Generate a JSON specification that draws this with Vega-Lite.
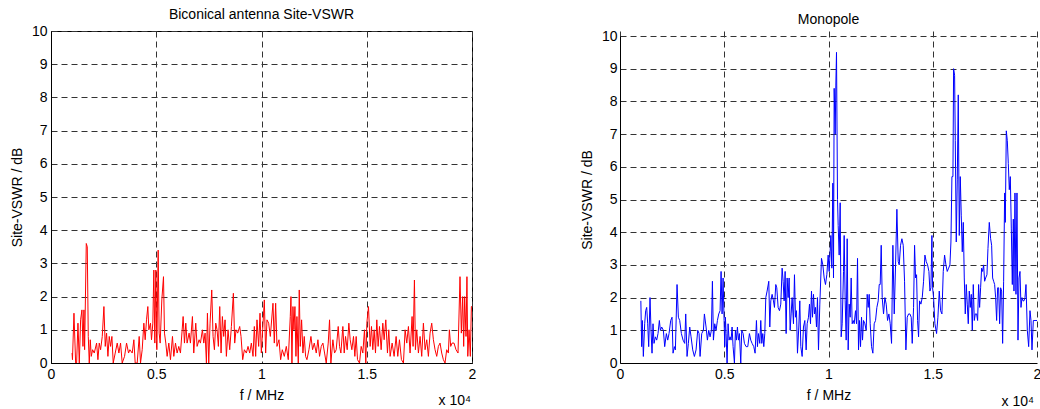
{
  "$schema": "https://vega.github.io/schema/vega-lite/v6.json",
  "padding": {"left": 9, "top": 7, "right": 0, "bottom": 0},
  "background": "white",
  "spacing": 103,
  "config": {
    "view": {"stroke": "#000000", "strokeWidth": 1},
    "font": "Liberation Sans",
    "axis": {
      "grid": true,
      "gridDash": [6, 4],
      "gridColor": "#333333",
      "gridWidth": 1,
      "ticks": false,
      "domainColor": "#000000",
      "labelColor": "#000000",
      "labelFont": "Liberation Sans",
      "labelFontSize": 14,
      "labelPadding": 4,
      "labelFlush": false,
      "labelOverlap": false,
      "titleFont": "Liberation Sans",
      "titleFontSize": 14,
      "titleFontWeight": "normal",
      "titleColor": "#000000"
    },
    "title": {"font": "Liberation Sans", "fontSize": 14, "fontWeight": "normal", "color": "#000000", "offset": 2, "frame": "group", "anchor": "middle"}
  },
  "datasets": {
    "bicon": [
      {"f":1000,"v":0.3},{"f":1020,"v":0.1},{"f":1091,"v":1.5},{"f":1170,"v":0},{"f":1217,"v":0},{"f":1281,"v":1.2},{"f":1344,"v":0},{"f":1407,"v":1.3},{"f":1470,"v":1.6},{"f":1518,"v":0.5},{"f":1565,"v":1.6},{"f":1597,"v":0.4},{"f":1676,"v":3.6},{"f":1723,"v":3.5},{"f":1771,"v":0.8},{"f":1818,"v":0},{"f":1866,"v":0.7},{"f":1913,"v":0.2},{"f":1976,"v":0.4},{"f":2055,"v":0.3},{"f":2166,"v":0.6},{"f":2229,"v":0.1},{"f":2292,"v":0.6},{"f":2356,"v":0.4},{"f":2435,"v":0.8},{"f":2514,"v":1.7},{"f":2577,"v":0.5},{"f":2640,"v":0.9},{"f":2704,"v":0.2},{"f":2767,"v":0.8},{"f":2830,"v":0.5},{"f":2893,"v":0.8},{"f":2956,"v":0},{"f":3051,"v":0.3},{"f":3146,"v":0.6},{"f":3225,"v":0.3},{"f":3304,"v":0.6},{"f":3383,"v":0},{"f":3494,"v":0.2},{"f":3589,"v":0.6},{"f":3684,"v":0.3},{"f":3747,"v":0.4},{"f":3858,"v":0.3},{"f":3937,"v":0.7},{"f":4000,"v":0},{"f":4095,"v":0},{"f":4190,"v":0.8},{"f":4253,"v":0},{"f":4332,"v":0.4},{"f":4411,"v":1.2},{"f":4474,"v":0.7},{"f":4537,"v":1.3},{"f":4600,"v":1.7},{"f":4648,"v":1.0},{"f":4727,"v":1.2},{"f":4775,"v":0.7},{"f":4838,"v":1.2},{"f":4885,"v":2.8},{"f":4933,"v":0.6},{"f":4980,"v":2.8},{"f":5028,"v":0.4},{"f":5091,"v":3.4},{"f":5138,"v":0.9},{"f":5186,"v":0.6},{"f":5265,"v":1.9},{"f":5344,"v":2.6},{"f":5391,"v":0.9},{"f":5454,"v":0.6},{"f":5518,"v":0.2},{"f":5597,"v":0.6},{"f":5676,"v":0.1},{"f":5771,"v":0.8},{"f":5834,"v":0.2},{"f":5913,"v":0.6},{"f":5992,"v":0.3},{"f":6071,"v":0.5},{"f":6150,"v":0.3},{"f":6277,"v":1.4},{"f":6340,"v":0.6},{"f":6403,"v":1.2},{"f":6466,"v":0.6},{"f":6561,"v":0.9},{"f":6624,"v":0.6},{"f":6719,"v":1.4},{"f":6782,"v":0.3},{"f":6877,"v":1.2},{"f":6941,"v":0.5},{"f":7035,"v":0.7},{"f":7099,"v":0.6},{"f":7194,"v":1.0},{"f":7257,"v":0.6},{"f":7320,"v":0.9},{"f":7383,"v":0},{"f":7431,"v":1.5},{"f":7494,"v":0},{"f":7557,"v":1.2},{"f":7636,"v":2.2},{"f":7699,"v":0.8},{"f":7763,"v":0.4},{"f":7826,"v":1.2},{"f":7889,"v":1.0},{"f":7952,"v":0.5},{"f":8016,"v":1.7},{"f":8079,"v":0.3},{"f":8142,"v":1.4},{"f":8205,"v":0.8},{"f":8269,"v":1.3},{"f":8332,"v":0.2},{"f":8411,"v":1.0},{"f":8490,"v":0.4},{"f":8569,"v":1.1},{"f":8664,"v":2.1},{"f":8727,"v":0.6},{"f":8790,"v":1.0},{"f":8869,"v":0.9},{"f":8964,"v":1.1},{"f":9027,"v":0.8},{"f":9107,"v":0.1},{"f":9186,"v":0.4},{"f":9280,"v":0.3},{"f":9360,"v":0.5},{"f":9439,"v":0.3},{"f":9518,"v":0.6},{"f":9597,"v":0.2},{"f":9660,"v":1.1},{"f":9723,"v":0.2},{"f":9786,"v":1.3},{"f":9865,"v":0.5},{"f":9929,"v":1.5},{"f":9992,"v":0.3},{"f":10055,"v":1.0},{"f":10134,"v":1.9},{"f":10197,"v":0.3},{"f":10261,"v":1.3},{"f":10340,"v":1.2},{"f":10419,"v":0.8},{"f":10545,"v":1.8},{"f":10608,"v":0.6},{"f":10672,"v":1.8},{"f":10735,"v":0.5},{"f":10830,"v":0.7},{"f":10909,"v":0.1},{"f":10988,"v":0.4},{"f":11083,"v":0.2},{"f":11178,"v":0.5},{"f":11272,"v":0.1},{"f":11367,"v":1.4},{"f":11399,"v":2.0},{"f":11446,"v":0},{"f":11494,"v":1.7},{"f":11541,"v":1.0},{"f":11588,"v":1.7},{"f":11636,"v":0.2},{"f":11683,"v":1.4},{"f":11747,"v":0},{"f":11794,"v":2.2},{"f":11842,"v":0.5},{"f":11905,"v":1.3},{"f":11968,"v":0.3},{"f":12031,"v":0.8},{"f":12095,"v":0.2},{"f":12158,"v":0.1},{"f":12253,"v":0.4},{"f":12348,"v":0.8},{"f":12427,"v":0.4},{"f":12506,"v":0.6},{"f":12601,"v":0.3},{"f":12680,"v":0.7},{"f":12759,"v":0.2},{"f":12838,"v":0.5},{"f":12917,"v":0.6},{"f":12996,"v":0.3},{"f":13075,"v":0},{"f":13170,"v":0.6},{"f":13233,"v":1.3},{"f":13296,"v":0},{"f":13391,"v":0.7},{"f":13470,"v":0.3},{"f":13549,"v":0.4},{"f":13644,"v":1.1},{"f":13707,"v":0.5},{"f":13771,"v":0.3},{"f":13865,"v":1.1},{"f":13929,"v":0.3},{"f":13992,"v":0.8},{"f":14071,"v":0.4},{"f":14150,"v":1.2},{"f":14213,"v":0.7},{"f":14292,"v":0.4},{"f":14371,"v":0.8},{"f":14435,"v":0.2},{"f":14498,"v":0.8},{"f":14561,"v":0.1},{"f":14656,"v":0},{"f":14735,"v":0.5},{"f":14814,"v":0.3},{"f":14893,"v":1.0},{"f":14956,"v":0},{"f":15004,"v":1.2},{"f":15083,"v":1.7},{"f":15162,"v":0.5},{"f":15225,"v":1.1},{"f":15288,"v":0.4},{"f":15352,"v":1.0},{"f":15415,"v":0.3},{"f":15478,"v":1.3},{"f":15541,"v":0.5},{"f":15605,"v":1.1},{"f":15684,"v":0.4},{"f":15763,"v":1.2},{"f":15826,"v":0.7},{"f":15905,"v":1.3},{"f":15984,"v":0.3},{"f":16047,"v":1.0},{"f":16111,"v":0.2},{"f":16206,"v":0.6},{"f":16300,"v":0.2},{"f":16395,"v":0.8},{"f":16474,"v":0.2},{"f":16553,"v":0.7},{"f":16648,"v":0.1},{"f":16743,"v":0},{"f":16822,"v":1.0},{"f":16901,"v":0.6},{"f":16980,"v":1.1},{"f":17059,"v":0.3},{"f":17154,"v":1.4},{"f":17201,"v":0.5},{"f":17265,"v":2.5},{"f":17312,"v":0.4},{"f":17375,"v":1.0},{"f":17454,"v":0.3},{"f":17533,"v":0.8},{"f":17612,"v":0.2},{"f":17691,"v":1.2},{"f":17771,"v":0.4},{"f":17850,"v":0.7},{"f":17929,"v":0.2},{"f":18008,"v":0.9},{"f":18087,"v":1.2},{"f":18166,"v":0.7},{"f":18245,"v":0.4},{"f":18324,"v":0.2},{"f":18403,"v":0.5},{"f":18482,"v":0.6},{"f":18561,"v":0.3},{"f":18640,"v":0.1},{"f":18719,"v":0},{"f":18798,"v":0.4},{"f":18877,"v":0.3},{"f":18925,"v":1.0},{"f":18988,"v":0.5},{"f":19051,"v":0.6},{"f":19146,"v":0.6},{"f":19241,"v":0.4},{"f":19336,"v":0.3},{"f":19430,"v":2.6},{"f":19494,"v":0.9},{"f":19557,"v":2.0},{"f":19605,"v":0.5},{"f":19652,"v":2.0},{"f":19715,"v":0.8},{"f":19760,"v":2.6},{"f":19800,"v":0.2},{"f":19860,"v":1.0},{"f":19920,"v":0.2},{"f":19970,"v":1.7},{"f":20000,"v":1.7}
    ],
    "mono": [
      {"f":1000,"v":1.9},{"f":1040,"v":0.5},{"f":1072,"v":1.3},{"f":1120,"v":0.2},{"f":1184,"v":1.2},{"f":1232,"v":1.6},{"f":1280,"v":1.7},{"f":1328,"v":1.2},{"f":1376,"v":0.5},{"f":1440,"v":2.0},{"f":1488,"v":1.0},{"f":1536,"v":0.3},{"f":1584,"v":1.2},{"f":1632,"v":0.6},{"f":1696,"v":0.8},{"f":1760,"v":0.7},{"f":1824,"v":0.9},{"f":1888,"v":1.3},{"f":1936,"v":1.0},{"f":2000,"v":1.1},{"f":2080,"v":1.0},{"f":2144,"v":0.5},{"f":2224,"v":0.9},{"f":2288,"v":0.7},{"f":2352,"v":0.9},{"f":2432,"v":1.3},{"f":2496,"v":1.4},{"f":2544,"v":0.3},{"f":2608,"v":0.5},{"f":2656,"v":0.4},{"f":2736,"v":2.4},{"f":2800,"v":1.4},{"f":2864,"v":1.3},{"f":2944,"v":0.9},{"f":3024,"v":0.7},{"f":3104,"v":0.6},{"f":3152,"v":1.5},{"f":3216,"v":0.2},{"f":3280,"v":0.6},{"f":3344,"v":1.1},{"f":3408,"v":0.8},{"f":3488,"v":0.4},{"f":3568,"v":0.2},{"f":3648,"v":0.4},{"f":3728,"v":1.0},{"f":3792,"v":0.9},{"f":3840,"v":0.2},{"f":3920,"v":0.9},{"f":4000,"v":1.0},{"f":4048,"v":1.5},{"f":4128,"v":1.1},{"f":4192,"v":0.7},{"f":4256,"v":1.0},{"f":4320,"v":0.8},{"f":4384,"v":1.0},{"f":4432,"v":2.5},{"f":4480,"v":0.7},{"f":4544,"v":1.2},{"f":4608,"v":1.0},{"f":4672,"v":1.3},{"f":4736,"v":1.5},{"f":4800,"v":1.6},{"f":4848,"v":2.8},{"f":4896,"v":1.5},{"f":4944,"v":2.6},{"f":4992,"v":1.3},{"f":5024,"v":0.5},{"f":5056,"v":1.4},{"f":5088,"v":0.9},{"f":5136,"v":0},{"f":5184,"v":1.2},{"f":5232,"v":0.7},{"f":5280,"v":0.8},{"f":5328,"v":0.7},{"f":5376,"v":1.1},{"f":5424,"v":0.5},{"f":5488,"v":0},{"f":5536,"v":1.0},{"f":5584,"v":0.7},{"f":5632,"v":1.1},{"f":5680,"v":0.7},{"f":5728,"v":0.9},{"f":5792,"v":0},{"f":5840,"v":1.0},{"f":5904,"v":0.9},{"f":5968,"v":0.6},{"f":6048,"v":0.5},{"f":6128,"v":0.5},{"f":6208,"v":0.9},{"f":6272,"v":0.7},{"f":6336,"v":0.6},{"f":6416,"v":0.5},{"f":6480,"v":0.3},{"f":6544,"v":1.3},{"f":6592,"v":0.5},{"f":6640,"v":0.9},{"f":6704,"v":0.6},{"f":6752,"v":1.3},{"f":6800,"v":0.6},{"f":6848,"v":0.9},{"f":6896,"v":0.5},{"f":6944,"v":0.9},{"f":6992,"v":2.0},{"f":7056,"v":2.2},{"f":7136,"v":2.5},{"f":7184,"v":1.1},{"f":7232,"v":1.9},{"f":7296,"v":2.1},{"f":7360,"v":1.9},{"f":7408,"v":1.7},{"f":7472,"v":2.4},{"f":7520,"v":2.3},{"f":7584,"v":1.7},{"f":7648,"v":1.6},{"f":7712,"v":1.8},{"f":7776,"v":2.9},{"f":7824,"v":2.5},{"f":7872,"v":1.9},{"f":7920,"v":2.8},{"f":7968,"v":0.9},{"f":8016,"v":2.6},{"f":8064,"v":2.0},{"f":8112,"v":2.6},{"f":8160,"v":1.0},{"f":8208,"v":1.5},{"f":8256,"v":2.0},{"f":8320,"v":1.2},{"f":8368,"v":2.7},{"f":8416,"v":1.4},{"f":8464,"v":1.6},{"f":8512,"v":0.3},{"f":8576,"v":1.1},{"f":8624,"v":1.9},{"f":8672,"v":0.5},{"f":8736,"v":0.2},{"f":8800,"v":1.1},{"f":8864,"v":1.3},{"f":8928,"v":0.4},{"f":8976,"v":1.2},{"f":9040,"v":1.4},{"f":9088,"v":1.8},{"f":9136,"v":1.2},{"f":9184,"v":2.2},{"f":9232,"v":1.4},{"f":9280,"v":2.1},{"f":9328,"v":1.5},{"f":9376,"v":1.7},{"f":9424,"v":1.1},{"f":9472,"v":2.0},{"f":9520,"v":0.4},{"f":9584,"v":1.8},{"f":9664,"v":3.2},{"f":9728,"v":3.0},{"f":9792,"v":2.6},{"f":9856,"v":2.4},{"f":9920,"v":2.7},{"f":9984,"v":3.3},{"f":10032,"v":2.8},{"f":10080,"v":3.4},{"f":10112,"v":3.9},{"f":10160,"v":2.9},{"f":10208,"v":5.5},{"f":10240,"v":2.6},{"f":10272,"v":8.4},{"f":10320,"v":7.0},{"f":10352,"v":8.5},{"f":10384,"v":9.5},{"f":10432,"v":5.0},{"f":10464,"v":4.2},{"f":10512,"v":3.3},{"f":10560,"v":4.9},{"f":10608,"v":0.8},{"f":10656,"v":1.2},{"f":10720,"v":2.8},{"f":10752,"v":3.9},{"f":10800,"v":1.9},{"f":10848,"v":0.7},{"f":10896,"v":3.8},{"f":10944,"v":0.4},{"f":10992,"v":1.8},{"f":11040,"v":1.4},{"f":11088,"v":2.6},{"f":11136,"v":1.2},{"f":11184,"v":1.3},{"f":11232,"v":1.2},{"f":11296,"v":1.6},{"f":11344,"v":1.2},{"f":11392,"v":3.2},{"f":11440,"v":0.4},{"f":11488,"v":1.3},{"f":11536,"v":0.5},{"f":11584,"v":1.4},{"f":11632,"v":0.7},{"f":11680,"v":1.3},{"f":11744,"v":1.2},{"f":11808,"v":1.0},{"f":11856,"v":2.1},{"f":11904,"v":1.7},{"f":11952,"v":2.1},{"f":12000,"v":1.2},{"f":12064,"v":0.5},{"f":12128,"v":0.3},{"f":12192,"v":1.2},{"f":12256,"v":1.3},{"f":12320,"v":1.7},{"f":12384,"v":1.9},{"f":12432,"v":2.4},{"f":12480,"v":2.4},{"f":12528,"v":3.6},{"f":12576,"v":2.0},{"f":12640,"v":1.5},{"f":12704,"v":2.0},{"f":12768,"v":1.8},{"f":12832,"v":1.3},{"f":12896,"v":1.5},{"f":12960,"v":1.2},{"f":13024,"v":0.6},{"f":13088,"v":3.6},{"f":13152,"v":1.5},{"f":13216,"v":3.0},{"f":13280,"v":4.7},{"f":13344,"v":3.1},{"f":13392,"v":3.0},{"f":13456,"v":3.6},{"f":13520,"v":3.8},{"f":13584,"v":3.6},{"f":13648,"v":2.5},{"f":13712,"v":0.4},{"f":13776,"v":1.4},{"f":13840,"v":1.5},{"f":13904,"v":1.5},{"f":13968,"v":1.4},{"f":14016,"v":0.6},{"f":14080,"v":1.7},{"f":14128,"v":3.6},{"f":14176,"v":2.6},{"f":14224,"v":2.7},{"f":14272,"v":1.3},{"f":14320,"v":0.8},{"f":14368,"v":1.9},{"f":14432,"v":1.8},{"f":14496,"v":2.0},{"f":14560,"v":2.5},{"f":14624,"v":3.3},{"f":14688,"v":3.1},{"f":14752,"v":3.0},{"f":14816,"v":2.8},{"f":14864,"v":2.2},{"f":14912,"v":2.3},{"f":14960,"v":3.9},{"f":14992,"v":2.3},{"f":15040,"v":2.0},{"f":15104,"v":1.2},{"f":15184,"v":0.9},{"f":15248,"v":1.4},{"f":15312,"v":2.2},{"f":15376,"v":1.6},{"f":15440,"v":1.5},{"f":15504,"v":2.8},{"f":15568,"v":3.3},{"f":15632,"v":3.0},{"f":15696,"v":2.8},{"f":15760,"v":2.9},{"f":15824,"v":3.0},{"f":15872,"v":3.7},{"f":15920,"v":5.7},{"f":15968,"v":5.7},{"f":16000,"v":9.0},{"f":16048,"v":8.8},{"f":16080,"v":6.8},{"f":16128,"v":3.7},{"f":16176,"v":5.6},{"f":16224,"v":8.2},{"f":16272,"v":3.9},{"f":16320,"v":5.7},{"f":16368,"v":4.5},{"f":16416,"v":3.4},{"f":16464,"v":4.3},{"f":16512,"v":2.6},{"f":16560,"v":1.5},{"f":16608,"v":2.4},{"f":16656,"v":1.8},{"f":16704,"v":1.2},{"f":16752,"v":2.2},{"f":16800,"v":1.7},{"f":16848,"v":2.1},{"f":16896,"v":1.0},{"f":16944,"v":2.4},{"f":16992,"v":1.3},{"f":17040,"v":1.5},{"f":17104,"v":1.5},{"f":17152,"v":1.3},{"f":17200,"v":2.4},{"f":17248,"v":1.7},{"f":17296,"v":2.3},{"f":17344,"v":2.9},{"f":17392,"v":2.8},{"f":17440,"v":3.0},{"f":17488,"v":2.5},{"f":17536,"v":2.6},{"f":17600,"v":2.7},{"f":17648,"v":3.5},{"f":17712,"v":4.3},{"f":17776,"v":3.8},{"f":17824,"v":3.6},{"f":17872,"v":2.6},{"f":17920,"v":2.5},{"f":17968,"v":2.4},{"f":18016,"v":2.0},{"f":18064,"v":1.3},{"f":18112,"v":2.3},{"f":18160,"v":2.3},{"f":18208,"v":1.2},{"f":18256,"v":2.3},{"f":18304,"v":2.2},{"f":18352,"v":0.6},{"f":18400,"v":2.5},{"f":18448,"v":5.2},{"f":18480,"v":4.3},{"f":18528,"v":7.1},{"f":18576,"v":6.8},{"f":18624,"v":6.1},{"f":18672,"v":5.3},{"f":18720,"v":5.7},{"f":18768,"v":4.1},{"f":18816,"v":2.4},{"f":18864,"v":4.4},{"f":18896,"v":2.2},{"f":18944,"v":5.2},{"f":18992,"v":2.1},{"f":19040,"v":5.2},{"f":19088,"v":0.7},{"f":19136,"v":2.6},{"f":19184,"v":2.8},{"f":19232,"v":1.7},{"f":19280,"v":2.0},{"f":19328,"v":1.9},{"f":19376,"v":1.9},{"f":19424,"v":2.0},{"f":19472,"v":2.4},{"f":19536,"v":1.0},{"f":19600,"v":0.5},{"f":19664,"v":1.6},{"f":19712,"v":1.3},{"f":19760,"v":0.4},{"f":19824,"v":1.3},{"f":19904,"v":1.3},{"f":20000,"v":1.3}
    ]
  },
  "hconcat": [
    {
      "width": 421,
      "height": 332,
      "title": {"text": "Biconical antenna Site-VSWR"},
      "encoding": {
        "x": {"field": "f", "type": "quantitative", "title": "f / MHz", "scale": {"domain": [0, 20000], "nice": false},
              "axis": {"values": [0, 5000, 10000, 15000, 20000], "labelExpr": "datum.value / 10000", "titlePadding": 7}},
        "y": {"field": "v", "type": "quantitative", "title": "Site-VSWR / dB", "scale": {"domain": [0, 10], "nice": false},
              "axis": {"values": [0,1,2,3,4,5,6,7,8,9,10], "titlePadding": 7}}
      },
      "layer": [
        {
          "data": {"name": "bicon"},
          "mark": {"type": "line", "color": "#ff0000", "strokeWidth": 1, "clip": true}
        },
        {
          "data": {"values": [{"f": 20000, "v": 0, "label": "x 10⁴"}]},
          "mark": {"type": "text", "align": "right", "baseline": "middle", "dy": 38, "dx": -1, "fontSize": 14, "font": "Liberation Sans", "color": "#000000"},
          "encoding": {"text": {"field": "label"}}
        }
      ]
    },
    {
      "width": 417,
      "height": 332,
      "view": {"stroke": null},
      "title": {"text": "Monopole"},
      "encoding": {
        "x": {"field": "f", "type": "quantitative", "title": "f / MHz", "scale": {"domain": [0, 20000], "nice": false},
              "axis": {"values": [0, 5000, 10000, 15000, 20000], "labelExpr": "datum.value / 10000", "titlePadding": 7}},
        "y": {"field": "v", "type": "quantitative", "title": "Site-VSWR / dB", "scale": {"domain": [0, 10], "nice": false, "range": [332, 5]},
              "axis": {"values": [0,1,2,3,4,5,6,7,8,9,10], "titlePadding": 7, "labelPadding": 3}}
      },
      "layer": [
        {
          "data": {"name": "mono"},
          "mark": {"type": "line", "color": "#0000ff", "strokeWidth": 1, "clip": true}
        },
        {
          "data": {"values": [{"edge": "top"}]},
          "mark": {"type": "rule", "color": "#000000", "strokeWidth": 1},
          "encoding": {"x": {"datum": 0}, "x2": {"datum": 20000}, "y": {"datum": 10}}
        },
        {
          "data": {"values": [{"edge": "right"}]},
          "mark": {"type": "rule", "color": "#000000", "strokeWidth": 1},
          "encoding": {"x": {"datum": 20000}, "y": {"datum": 0}, "y2": {"datum": 10}}
        },
        {
          "data": {"values": [{"f": 20000, "v": 0, "label": "x 10⁴"}]},
          "mark": {"type": "text", "align": "right", "baseline": "middle", "dy": 39, "dx": -3, "fontSize": 14, "font": "Liberation Sans", "color": "#000000"},
          "encoding": {"text": {"field": "label"}}
        }
      ]
    }
  ]
}
